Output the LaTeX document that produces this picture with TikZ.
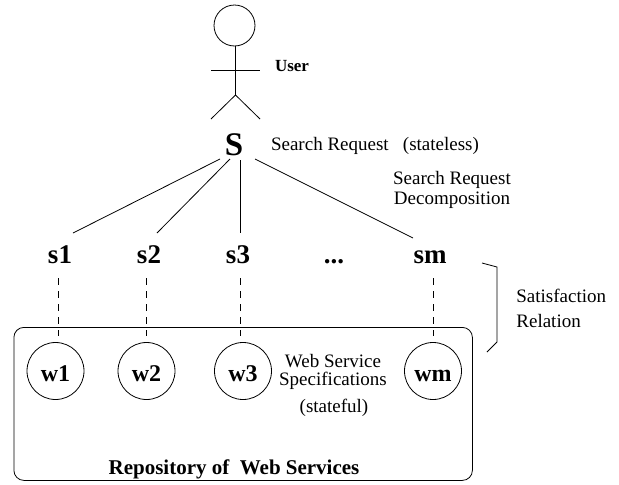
\documentclass[tikz,border=0pt]{standalone}
\usepackage{fontspec}
\setmainfont{Liberation Serif}
\usetikzlibrary{positioning}

\begin{document}
\begin{tikzpicture}[x=1pt, y=-1pt, line width=0.8pt,
        lbl/.style={font=\fontsize{19}{20}\selectfont, align=center, inner sep=0pt},
        req/.style={font=\fontsize{27}{30}\selectfont\bfseries, inner sep=0pt, anchor=base},
        svc/.style={draw, circle, minimum size=57pt, inner sep=0pt, text height=20pt, text depth=0pt, font=\fontsize{24}{26}\selectfont\bfseries},
        link/.style={dash pattern=on 7pt off 6pt, shorten >=6pt}]
        \useasboundingbox (0,0) rectangle (619,485);

        % user
        \node (head) [draw, circle, minimum size=41pt, inner sep=0pt] at (234.5,25.5) {};
        \coordinate (hip) at (235.5,95);
        \coordinate (armL) at (211,70);
        \coordinate (armR) at (260,70);
        \coordinate (footL) at (211,119);
        \coordinate (footR) at (260,119);
        \draw (head.south -| hip) -- (hip);
        \draw (armL) -- (armR);
        \draw (footL) -- (hip) -- (footR);
        \node (user) [lbl, font=\fontsize{17}{20}\selectfont\bfseries] at (292,66) {User};

        % request
        \node (S) [inner sep=0pt, font=\fontsize{33}{36}\selectfont\bfseries] at (234,144.5) {S};
        \node (reqlbl) [lbl] at (375,146) {Search Request~~~(stateless)};
        \node (declbl) [lbl] at (452,190) {Search Request\\Decomposition};

        \node (s1) [req] at (60,263) {s1};
        \node (s2) [req] at (149,263) {s2};
        \node (s3) [req] at (238,263) {s3};
        \node (sdots) [req] at (334,263) {...};
        \node (sm) [req] at (430,263) {sm};

        \coordinate (S1) at (220,159);
        \coordinate (S2) at (230,159);
        \coordinate (S3) at (240,160);
        \coordinate (Sm) at (255,159);
        \coordinate (e1) at (73,233);
        \coordinate (e2) at (157,233);
        \coordinate (e3) at (240,233);
        \coordinate (em) at (413,238);
        \draw (S1) -- (e1);
        \draw (S2) -- (e2);
        \draw (S3) -- (e3);
        \draw (Sm) -- (em);

        % repository
        \node (repo) [draw, rounded corners=10pt, minimum width=458.5pt, minimum height=153pt, inner sep=0pt, anchor=north west] at (13.5,327) {};
        \node (w1) [svc] at (55.5,371) {w1};
        \node (w2) [svc] at (146.5,371) {w2};
        \node (w3) [svc] at (243,371) {w3};
        \node (wm) [svc] at (433,371) {wm};

        \coordinate (d1) at (58,278);
        \coordinate (d2) at (146.5,278);
        \coordinate (d3) at (240,278);
        \coordinate (dm) at (433,278);
        \draw[link] (d1) -- (d1 |- w1.north);
        \draw[link] (d2) -- (d2 |- w2.north);
        \draw[link] (d3) -- (d3 |- w3.north);
        \draw[link] (dm) -- (dm |- wm.north);

        \node (wslbl) [lbl, font=\fontsize{19}{18}\selectfont] at (333,372) {Web Service\\Specifications};
        \node (stlbl) [lbl] at (334,408) {(stateful)};
        \node (repolbl) [lbl, font=\fontsize{21}{24}\selectfont\bfseries] at (234,469) {Repository of~~Web Services};

        % satisfaction
        \coordinate (b1) at (482,263);
        \coordinate (b2) at (497,267);
        \coordinate (b3) at (497,342);
        \coordinate (b4) at (487,352);
        \draw (b1) -- (b2) -- (b3) -- (b4);
        \node (satlbl) [lbl, align=left, anchor=west] at (516,308) {Satisfaction\\[5pt]Relation};
    \end{tikzpicture}
\end{document}
